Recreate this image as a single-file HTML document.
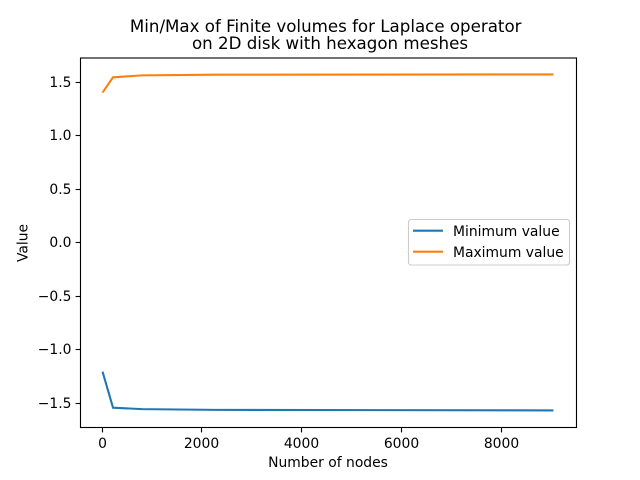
<!DOCTYPE html>
<html>
<head>
<meta charset="utf-8">
<title>Min/Max of Finite volumes</title>
<style>
html,body{margin:0;padding:0;background:#fff;width:640px;height:480px;overflow:hidden}
svg{display:block}
text{font-family:"DejaVu Sans",sans-serif;fill:#000}
</style>
</head>
<body>
<svg id="chart" width="640" height="480" viewBox="0 0 640 480" xmlns="http://www.w3.org/2000/svg">
  <rect x="0" y="0" width="640" height="480" fill="#fff"/>
  <text x="325.7" y="32" text-anchor="middle" style="font-size:16.67px">Min/Max of Finite volumes for Laplace operator</text>
  <text x="330" y="49" text-anchor="middle" style="font-size:16.67px">on 2D disk with hexagon meshes</text>
  <g id="ticks"></g>
  <g id="series"></g>
  <rect x="80.5" y="58" width="496" height="369.5" fill="none" stroke="#000" stroke-width="1.11"/>
  <text x="328" y="467" text-anchor="middle" style="font-size:13.89px">Number of nodes</text>
  <text x="0" y="0" text-anchor="middle" transform="translate(27.5 243) rotate(-90)" style="font-size:13.89px">Value</text>
  <g>
    <rect x="408.5" y="219.5" width="161" height="45.5" rx="2.8" fill="#fff" fill-opacity="0.8" stroke="#ccc" stroke-width="1.11"/>
    <line x1="413" y1="230.7" x2="443" y2="230.7" stroke="#1f77b4" stroke-width="2.08"/>
    <text x="453" y="236" style="font-size:13.89px">Minimum value</text>
    <line x1="413" y1="251.7" x2="443" y2="251.7" stroke="#ff7f0e" stroke-width="2.08"/>
    <text x="453" y="257" style="font-size:13.89px">Maximum value</text>
  </g>
</svg>
<script>
const nodes = [7, 217, 800, 2269, 9050];
const minValues = [-1.205, -1.542, -1.555, -1.562, -1.567];
const maxValues = [1.403, 1.546, 1.564, 1.57, 1.573];
const xTickValues = [0, 2000, 4000, 6000, 8000];
const xTickLabels = ['0', '2000', '4000', '6000', '8000'];
const yTickValues = [-1.5, -1.0, -0.5, 0.0, 0.5, 1.0, 1.5];
const yTickLabels = ['\u22121.5', '\u22121.0', '\u22120.5', '0.0', '0.5', '1.0', '1.5'];

const NS = 'http://www.w3.org/2000/svg';
const plotLeft = 80, plotRight = 576, plotTop = 57.6, plotBottom = 427.2;
const allValues = minValues.concat(maxValues);
const xLow = Math.min.apply(null, nodes), xHigh = Math.max.apply(null, nodes);
const yLow = Math.min.apply(null, allValues), yHigh = Math.max.apply(null, allValues);
const xPad = (xHigh - xLow) * 0.05, yPad = (yHigh - yLow) * 0.05;
function xScale(v) {
  return plotLeft + (v - (xLow - xPad)) / ((xHigh + xPad) - (xLow - xPad)) * (plotRight - plotLeft);
}
function yScale(v) {
  return plotBottom - (v - (yLow - yPad)) / ((yHigh + yPad) - (yLow - yPad)) * (plotBottom - plotTop);
}
const ticksGroup = document.getElementById('ticks');
const seriesGroup = document.getElementById('series');

xTickValues.forEach(function (v, i) {
  const px = Math.floor(xScale(v)) + 0.5;
  const tick = document.createElementNS(NS, 'line');
  
  
  tick.setAttribute('x1', px);
  tick.setAttribute('x2', px);
  tick.setAttribute('y1', 427.5);
  tick.setAttribute('y2', 432.4);
  tick.setAttribute('stroke', '#000');
  tick.setAttribute('stroke-width', 1.11);
  ticksGroup.appendChild(tick);
  const label = document.createElementNS(NS, 'text');
  
  
  label.setAttribute('x', px);
  label.setAttribute('y', 448);
  label.setAttribute('text-anchor', 'middle');
  label.style.fontSize = '13.89px';
  label.textContent = xTickLabels[i];
  ticksGroup.appendChild(label);
});

yTickValues.forEach(function (v, i) {
  const py = Math.floor(yScale(v)) + 0.5;
  const tick = document.createElementNS(NS, 'line');
  
  
  tick.setAttribute('x1', 75.6);
  tick.setAttribute('x2', 80.5);
  tick.setAttribute('y1', py);
  tick.setAttribute('y2', py);
  tick.setAttribute('stroke', '#000');
  tick.setAttribute('stroke-width', 1.11);
  ticksGroup.appendChild(tick);
  const label = document.createElementNS(NS, 'text');
  
  
  label.setAttribute('x', 71.5);
  label.setAttribute('y', py + 4.5);
  label.setAttribute('text-anchor', 'end');
  label.style.fontSize = '13.89px';
  label.textContent = yTickLabels[i];
  ticksGroup.appendChild(label);
});

function linePoints(values) {
  return values.map(function (v, i) {
    return xScale(nodes[i]).toFixed(2) + ',' + yScale(v).toFixed(2);
  }).join(' ');
}

const minLine = document.createElementNS(NS, 'polyline');


minLine.setAttribute('points', linePoints(minValues));
minLine.setAttribute('fill', 'none');
minLine.setAttribute('stroke', '#1f77b4');
minLine.setAttribute('stroke-width', 2.08);
seriesGroup.appendChild(minLine);

const maxLine = document.createElementNS(NS, 'polyline');


maxLine.setAttribute('points', linePoints(maxValues));
maxLine.setAttribute('fill', 'none');
maxLine.setAttribute('stroke', '#ff7f0e');
maxLine.setAttribute('stroke-width', 2.08);
seriesGroup.appendChild(maxLine);
</script>
</body>
</html>
